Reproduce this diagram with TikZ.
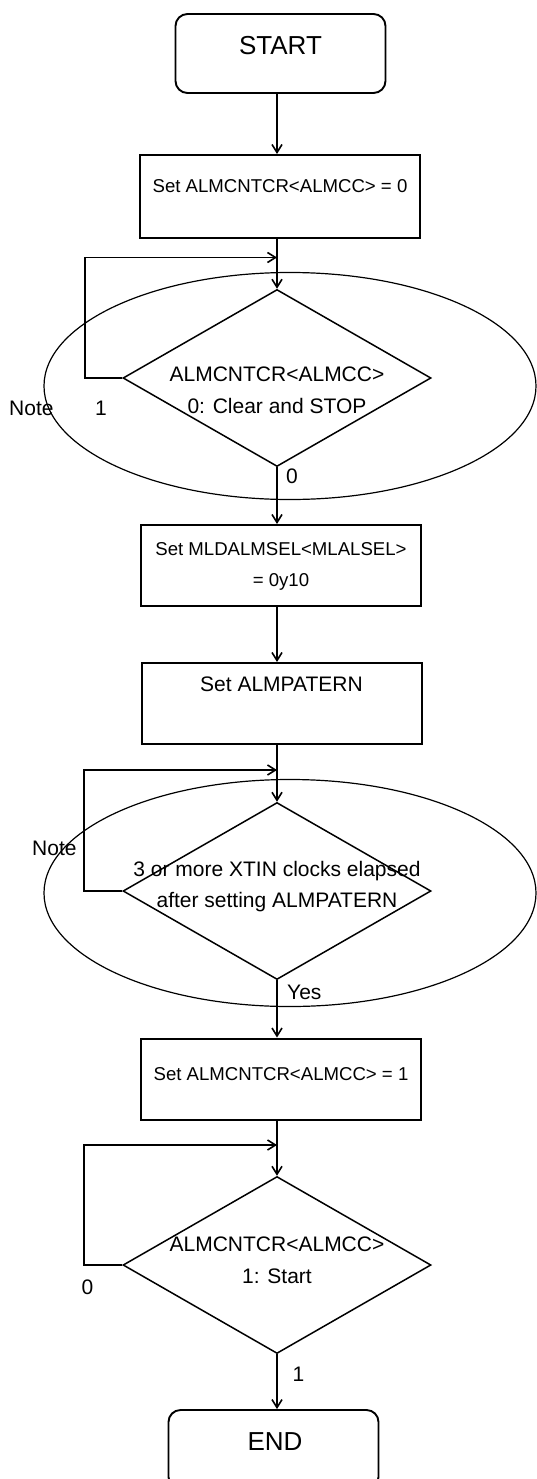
\documentclass[tikz,border=0pt]{standalone}
\usepackage{fontspec}
\setmainfont{Liberation Sans}
\usetikzlibrary{shapes.geometric,arrows.meta}
\begin{document}
\begin{tikzpicture}[x=1pt,y=-1pt,
  box/.style={draw,line width=2pt,inner sep=0pt,minimum width=280pt,minimum height=81pt},
  term/.style={draw,line width=1.9pt,rounded corners=12pt,inner sep=0pt,minimum width=210pt,minimum height=79pt},
  dec/.style={draw,diamond,line width=1.5pt,inner sep=0pt,minimum width=308pt,minimum height=177pt},
  oval/.style={draw,ellipse,line width=1.2pt,inner sep=0pt,minimum width=492pt,minimum height=227pt},
  arr/.style={line width=1.6pt,-{Straight Barb[length=8pt,width=10pt]}},
  txt/.style={anchor=base,inner sep=0pt,font=\fontsize{21}{25}\selectfont},
  stxt/.style={txt,font=\fontsize{18.6}{22}\selectfont},
  btxt/.style={txt,font=\fontsize{26}{30}\selectfont},
]
\useasboundingbox (0,0) rectangle (536,1479);

% ellipses (notes)
\node[oval] (e1) at (290,386) {};
\node[oval] (e2) at (290,893) {};

% terminals and process boxes
\node[term] (start) at (280.5,53.5) {};
\node[btxt] (tstart) at (280.5,55) {START};

\node[box,minimum height=83pt] (b1) at (280,196.5) {};
\node[stxt] (tb1) at (280,193) {Set ALMCNTCR<ALMCC> = 0};

\node[dec] (d1) at (277,378) {};
\node[txt] (td1a) at (277,381.5) {ALMCNTCR<ALMCC>};
\node[txt] (td1b) at (277,413) {0: Clear and STOP};
\node[txt,anchor=base west] (n1) at (9,415) {Note};
\node[txt] (l1a) at (101,415.5) {1};
\node[txt,anchor=base west] (l1b) at (286,483) {0};

\node[box] (b2) at (281,565.5) {};
\node[stxt] (tb2a) at (281,555) {Set MLDALMSEL<MLALSEL>};
\node[stxt] (tb2b) at (281,586.5) {= 0y10};

\node[box] (b3) at (281.5,703.5) {};
\node[txt] (tb3) at (281.5,691.5) {Set ALMPATERN};

\node[dec] (d2) at (277,891) {};
\node[txt] (td2a) at (277,876.5) {3 or more XTIN clocks elapsed};
\node[txt] (td2b) at (277,907.5) {after setting ALMPATERN};
\node[txt,anchor=base west] (n2) at (32,855) {Note};
\node[txt,anchor=base west] (ly) at (287,999) {Yes};

\node[box] (b4) at (281,1079) {};
\node[stxt] (tb4) at (281,1080.5) {Set ALMCNTCR<ALMCC> = 1};

\node[dec] (d3) at (277,1265) {};
\node[txt] (td3a) at (277,1251.5) {ALMCNTCR<ALMCC>};
\node[txt] (td3b) at (277,1283) {1: Start};
\node[txt] (l3a) at (87.5,1294) {0};
\node[txt] (l3b) at (298.5,1381.5) {1};

\node[term] (end) at (273.5,1449.5) {};
\node[btxt] (tend) at (275,1450) {END};

% junction points of the loops
\coordinate (j1) at (277,257.5);
\coordinate (j2) at (277,770);
\coordinate (j3) at (277,1145);

% connectors
\draw[arr] (start.south -| d1.north) -- (b1.north -| d1.north);
\draw[arr] (b1.south -| d1.north) -- (d1.north);
\draw[arr] (d1.west) -- ++(-37,0) |- (j1);
\draw[arr] (d1.south) -- (b2.north -| d1.south);
\draw[arr] (b2.south -| d2.north) -- (b3.north -| d2.north);
\draw[arr] (b3.south -| d2.north) -- (d2.north);
\draw[arr] (d2.west) -- ++(-38,0) |- (j2);
\draw[arr] (d2.south) -- (b4.north -| d2.south);
\draw[arr] (b4.south -| d3.north) -- (d3.north);
\draw[arr] (d3.west) -- ++(-38,0) |- (j3);
\draw[arr] (d3.south) -- (end.north -| d3.south);
\end{tikzpicture}
\end{document}
